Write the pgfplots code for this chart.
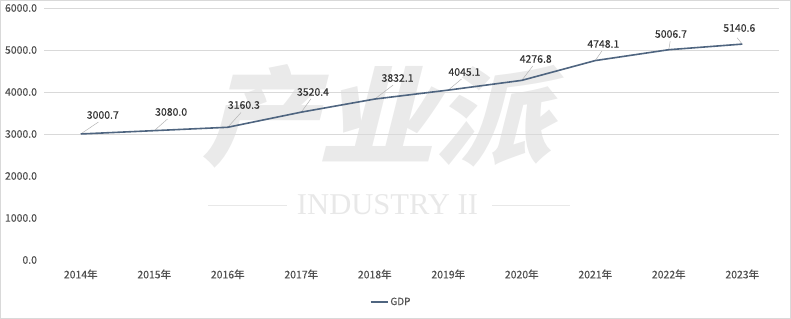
\documentclass[border=0pt]{standalone}
\usepackage{fontspec}
\setmainfont{Noto Sans CJK SC}[UprightFeatures={FakeBold=0.35}]
\newfontfamily\wmcjk{Noto Sans CJK SC}[UprightFeatures={FakeBold=2}]
\newfontfamily\wmserif{Liberation Serif}
\usepackage{graphicx}
\usepackage{pgfplots}
\usepackage{pgfplotstable}
\pgfplotsset{compat=1.18}
\definecolor{linecol}{RGB}{79,101,128}
\definecolor{gridcol}{RGB}{217,217,217}
\definecolor{labcol}{RGB}{51,51,51}
\definecolor{tickcol}{RGB}{80,80,80}
\definecolor{leadcol}{RGB}{180,180,180}
\definecolor{wmcol}{RGB}{234,234,234}
\definecolor{wmcol2}{RGB}{232,232,232}
\pgfplotstableread{
x y lx ly u v lab
0 3000.7 0.30 3452 0.24 284 3000.7
1 3080.0 1.23 3524 0.18 277 3080.0
2 3160.3 2.22 3690 0.18 350 3160.3
3 3520.4 3.16 4000 0.13 313 3520.4
4 3832.1 4.31 4333 0.25 334 3832.1
5 4045.1 5.22 4476 0.18 264 4045.1
6 4276.8 6.19 4786 0.15 342 4276.8
7 4748.1 7.11 5143 0.09 228 4748.1
8 5006.7 8.03 5381 0.02 207 5006.7
9 5140.6 8.96 5524 -0.07 150 5140.6
}\gdp
\begin{document}
\begin{tikzpicture}
\useasboundingbox (0,0) rectangle (791bp,319bp);
\draw[gridcol, line width=0.8bp] (0.5bp,0.5bp) rectangle (790.5bp,318.5bp);
% watermark
\node[wmcol, xslant=0.25, inner sep=0] at (386.5bp,203bp) {\resizebox{350bp}{92bp}{\bfseries 产业派}};
\node[wmcol2, inner sep=0] at (387.5bp,114bp) {\resizebox{181bp}{20bp}{\wmserif INDUSTRY II}};
\draw[wmcol2, line width=0.8bp] (208bp,114bp) -- (287bp,114bp);
\draw[wmcol2, line width=0.8bp] (492bp,114bp) -- (570bp,114bp);
\begin{axis}[
  at={(44bp,59bp)}, anchor=south west,
  scale only axis, width=735bp, height=252bp,
  xmin=-0.5, xmax=9.5, ymin=0, ymax=6000,
  xtick={0,...,9},
  xticklabels={2014年,2015年,2016年,2017年,2018年,2019年,2020年,2021年,2022年,2023年},
  ytick={0,1000,...,6000},
  /pgf/number format/fixed,
  /pgf/number format/fixed zerofill,
  /pgf/number format/precision=1,
  /pgf/number format/1000 sep={},
  /pgf/number format/assume math mode=true,
  yticklabel style={font=\fontsize{10.5}{12}\selectfont, text=tickcol, xshift=-3.5bp},
  xticklabel style={font=\fontsize{10.5}{12}\selectfont, text=tickcol, yshift=-6bp},
  major tick length=0pt,
  axis line style={draw=none},
  extra y ticks={3000,4000,5000,6000},
  extra y tick labels={},
  extra y tick style={grid=major, major grid style={gridcol, line width=0.8bp}},
  legend style={draw=none, fill=none, at={(0.443,-0.167)}, anchor=west,
    font=\fontsize{10}{12}\selectfont, text=tickcol, inner sep=0pt},
  legend image code/.code={\draw[#1] (0bp,0bp) -- (17bp,0bp);},
  clip=false,
]
\addplot[quiver={u=\thisrow{u},v=\thisrow{v}}, draw=leadcol, line width=0.5bp, forget plot] table[x=x,y=y] {\gdp};
\addplot[linecol, line width=1.6bp, mark=none] table[x=x,y=y] {\gdp};
\addlegendentry{GDP}
\addplot[draw=none, mark=none, forget plot, nodes near coords, nodes near coords align=center,
  point meta=explicit symbolic,
  every node near coord/.append style={font=\fontsize{10.5}{12}\selectfont, text=labcol, anchor=center}]
  table[x=lx,y=ly,meta=lab] {\gdp};
\end{axis}
\end{tikzpicture}
\end{document}
